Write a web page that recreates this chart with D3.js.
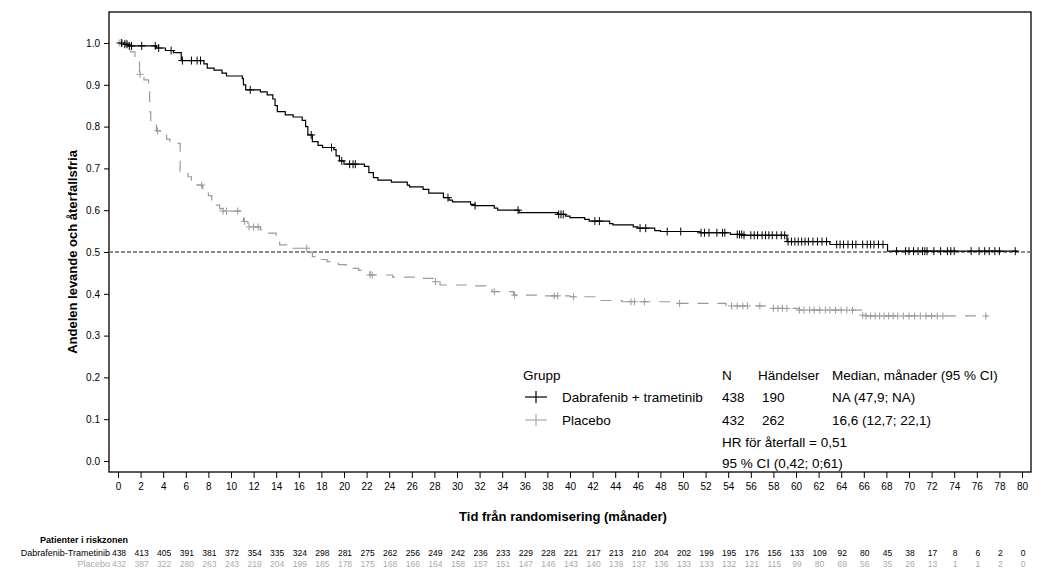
<!DOCTYPE html>
<html>
<head>
<meta charset="utf-8">
<script src="https://cdn.jsdelivr.net/npm/d3@7"></script>
<style>
  body { margin: 0; background: #fff; }
  svg { font-family: Arial, "Liberation Sans", sans-serif; }
</style>
</head>
<body>
<svg id="chart" width="1045" height="578"></svg>
<script>
// x ticks (months) and risk table columns
const months = d3.range(0, 81, 2);
const yTicks = d3.range(0, 1.01, 0.1);

// Dabrafenib + trametinib: [time, survival after the step]
const dabTimes = [0, 0.5, 0.9, 3.4, 4.2, 4.9, 5.6, 7.6, 7.9, 8.5, 9.2, 9.6, 11.0, 11.1, 11.3, 12.6, 13.2, 13.7, 13.9, 14.1, 14.8, 15.5, 16.3, 16.6, 16.8, 17.2, 17.7, 18.1, 19.1, 19.3, 19.6, 20.0, 21.8, 22.2, 22.6, 23.0, 24.2, 25.6, 25.8, 27.0, 27.5, 28.8, 29.3, 29.6, 31.2, 31.6, 33.3, 33.6, 35.5, 38.9, 39.6, 40.0, 41.3, 41.7, 43.5, 43.8, 45.6, 46.0, 47.5, 48.0, 51.5, 54.2, 55.3, 59.2, 63.0, 68.1, 79.6];
const dabSurv = [1.0, 0.997, 0.993, 0.988, 0.982, 0.977, 0.958, 0.950, 0.940, 0.935, 0.928, 0.921, 0.915, 0.900, 0.888, 0.883, 0.876, 0.866, 0.850, 0.836, 0.828, 0.823, 0.815, 0.800, 0.780, 0.764, 0.755, 0.750, 0.745, 0.730, 0.718, 0.710, 0.705, 0.690, 0.678, 0.672, 0.667, 0.660, 0.656, 0.650, 0.641, 0.630, 0.624, 0.620, 0.614, 0.611, 0.605, 0.600, 0.594, 0.590, 0.586, 0.582, 0.578, 0.574, 0.568, 0.565, 0.560, 0.557, 0.551, 0.549, 0.546, 0.542, 0.540, 0.525, 0.518, 0.502, 0.502];
const dabCensor = [0.3, 0.6, 0.8, 1.0, 1.2, 2.1, 3.3, 3.6, 4.7, 5.7, 6.5, 7.0, 7.3, 11.7, 17.1, 18.9, 19.8, 20.5, 20.8, 21.0, 29.2, 31.6, 35.4, 39.0, 39.2, 39.4, 42.2, 42.6, 46.2, 46.7, 48.6, 49.8, 51.6, 51.9, 52.3, 53.0, 53.5, 53.7, 54.8, 55.0, 55.2, 55.4, 56.0, 56.3, 56.6, 57.0, 57.3, 57.6, 57.9, 58.3, 58.7, 59.0, 59.3, 59.6, 59.9, 60.2, 60.5, 60.8, 61.1, 61.5, 61.9, 62.3, 62.7, 63.6, 63.9, 64.2, 64.6, 65.0, 65.3, 65.9, 66.3, 66.6, 66.9, 67.3, 67.7, 68.9, 69.7, 70.0, 70.4, 70.8, 71.2, 71.4, 71.6, 72.2, 72.8, 73.4, 73.7, 74.0, 75.5, 76.2, 76.7, 77.1, 77.6, 78.0, 79.4];

// Placebo
const plaTimes = [0, 0.9, 1.1, 1.5, 1.9, 2.3, 2.7, 2.8, 2.9, 3.4, 4.3, 4.6, 5.0, 5.5, 6.2, 6.5, 7.0, 7.5, 8.0, 8.3, 8.7, 9.0, 9.3, 11.0, 11.1, 11.5, 12.6, 13.1, 14.0, 14.3, 15.5, 16.8, 17.2, 17.8, 18.5, 19.5, 20.2, 21.3, 22.3, 24.3, 26.7, 28.0, 28.5, 30.9, 33.1, 35.0, 37.4, 40.0, 42.2, 44.6, 49.4, 53.8, 57.8, 60.3, 65.8, 66.2, 76.9];
const plaSurv = [1.0, 0.990, 0.979, 0.965, 0.925, 0.912, 0.890, 0.835, 0.808, 0.790, 0.770, 0.764, 0.760, 0.690, 0.680, 0.672, 0.660, 0.645, 0.635, 0.624, 0.612, 0.604, 0.598, 0.585, 0.573, 0.560, 0.553, 0.545, 0.530, 0.517, 0.509, 0.500, 0.489, 0.482, 0.477, 0.470, 0.461, 0.456, 0.445, 0.440, 0.437, 0.429, 0.421, 0.419, 0.405, 0.397, 0.395, 0.393, 0.384, 0.381, 0.377, 0.371, 0.365, 0.361, 0.349, 0.347, 0.347];
const plaCensor = [0.1, 0.4, 0.7, 1.95, 3.5, 7.4, 9.3, 9.6, 10.6, 11.2, 11.6, 12.0, 12.4, 16.7, 22.3, 22.5, 28.1, 33.3, 35.1, 38.6, 38.9, 40.3, 45.4, 45.7, 46.6, 49.7, 54.3, 54.8, 55.3, 55.7, 56.8, 58.0, 58.4, 58.8, 59.2, 60.3, 60.7, 61.2, 61.6, 62.1, 62.6, 63.0, 63.5, 64.0, 64.5, 65.0, 65.9, 66.2, 66.6, 67.0, 67.4, 67.8, 68.2, 68.6, 69.0, 69.5, 70.0, 70.5, 71.0, 71.5, 72.0, 72.5, 73.0, 76.8];

// number at risk
const riskDab = [438, 413, 405, 391, 381, 372, 354, 335, 324, 298, 281, 275, 262, 256, 249, 242, 236, 233, 229, 228, 221, 217, 213, 210, 204, 202, 199, 195, 176, 156, 133, 109, 92, 80, 45, 38, 17, 8, 6, 2, 0];
const riskPla = [432, 387, 322, 280, 263, 243, 219, 204, 199, 185, 178, 175, 168, 166, 164, 158, 157, 151, 147, 146, 143, 140, 139, 137, 136, 133, 133, 132, 121, 115, 99, 80, 69, 56, 35, 26, 13, 1, 1, 2, 0];

const legendHeader = ["Grupp", "N", "Händelser", "Median, månader (95 % CI)"];
const legendRows = [
  ["Dabrafenib + trametinib", "438", "190", "NA (47,9; NA)"],
  ["Placebo", "432", "262", "16,6 (12,7; 22,1)"]
];
const hrLines = ["HR för återfall = 0,51", "95 % CI (0,42; 0;61)"];

const BLACK = "#000";
const GRAY = "#9a9a9a";

const svg = d3.select("#chart");
const x = d3.scaleLinear().domain([0, 80]).range([118, 1022]);
const y = d3.scaleLinear().domain([0, 1]).range([461, 43]);
const frame = { left: 109, right: 1031, top: 12, bottom: 472 };

function stepAt(times, surv, t) {
  const i = d3.bisectRight(times, t) - 1;
  return surv[Math.max(0, i)];
}

// y axis
const yAxis = svg.append("g")
  .attr("transform", `translate(${frame.left},0)`)
  .call(d3.axisLeft(y).tickValues(yTicks).tickFormat(d3.format(".1f")).tickSize(5).tickPadding(4));
yAxis.select(".domain").remove();
yAxis.selectAll("text").attr("font-size", 10).attr("font-family", "Arial, Liberation Sans, sans-serif");

// x axis
const xAxis = svg.append("g")
  .attr("transform", `translate(0,${frame.bottom})`)
  .call(d3.axisBottom(x).tickValues(months).tickSize(6).tickPadding(5));
xAxis.select(".domain").remove();
xAxis.selectAll("text").attr("font-size", 10).attr("font-family", "Arial, Liberation Sans, sans-serif");

// frame
svg.append("rect")
  .attr("x", frame.left).attr("y", frame.top)
  .attr("width", frame.right - frame.left).attr("height", frame.bottom - frame.top)
  .attr("fill", "none").attr("stroke", "#000").attr("stroke-width", 1.3);

// median reference line
svg.append("line")
  .attr("x1", frame.left).attr("x2", frame.right)
  .attr("y1", y(0.5)).attr("y2", y(0.5))
  .attr("stroke", "#666").attr("stroke-width", 1.5).attr("stroke-dasharray", "4,2");

const line = d3.line().x(d => x(d[0])).y(d => y(d[1])).curve(d3.curveStepAfter);

// placebo curve
svg.append("path")
  .datum(d3.zip(plaTimes, plaSurv))
  .attr("d", line)
  .attr("fill", "none").attr("stroke", GRAY).attr("stroke-width", 1.2)
  .attr("stroke-dasharray", "11,9");

// dabrafenib curve
svg.append("path")
  .datum(d3.zip(dabTimes, dabSurv))
  .attr("d", line)
  .attr("fill", "none").attr("stroke", BLACK).attr("stroke-width", 1.2);

function censorMarks(times, surv, marks, color, size) {
  const g = svg.append("g").attr("stroke", color).attr("stroke-width", 1);
  marks.forEach(t => {
    const cx = x(t), cy = y(stepAt(times, surv, t));
    g.append("line").attr("x1", cx - size).attr("x2", cx + size).attr("y1", cy).attr("y2", cy);
    g.append("line").attr("x1", cx).attr("x2", cx).attr("y1", cy - size).attr("y2", cy + size);
  });
}
censorMarks(plaTimes, plaSurv, plaCensor, GRAY, 3.5);
censorMarks(dabTimes, dabSurv, dabCensor, BLACK, 4);

// axis titles
svg.append("text")
  .attr("transform", `translate(77,${(frame.top + frame.bottom) / 2 + 10}) rotate(-90)`)
  .attr("text-anchor", "middle")
  .attr("font-size", 13).attr("font-weight", "bold")
  .text("Andelen levande och återfallsfria");

svg.append("text")
  .attr("x", 563).attr("y", 521)
  .attr("text-anchor", "middle")
  .attr("font-size", 13).attr("font-weight", "bold")
  .text("Tid från randomisering (månader)");

// legend
const leg = svg.append("g").attr("font-size", 13.5).attr("fill", "#000");
const colX = [523, 722, 758, 832];
legendHeader.forEach((s, i) => {
  leg.append("text").attr("x", colX[i]).attr("y", 380).text(s);
});
const rowY = [397, 420];
const rowColors = [BLACK, "#aaa"];
legendRows.forEach((row, r) => {
  const cy = rowY[r];
  leg.append("line").attr("x1", 525).attr("x2", 547).attr("y1", cy).attr("y2", cy)
    .attr("stroke", rowColors[r]).attr("stroke-width", 1.2);
  leg.append("line").attr("x1", 536).attr("x2", 536).attr("y1", cy - 6).attr("y2", cy + 6)
    .attr("stroke", rowColors[r]).attr("stroke-width", 1.2);
  leg.append("text").attr("x", 562).attr("y", cy + 5).text(row[0]);
  leg.append("text").attr("x", 722).attr("y", cy + 5).text(row[1]);
  leg.append("text").attr("x", 762).attr("y", cy + 5).text(row[2]);
  leg.append("text").attr("x", 832).attr("y", cy + 5).text(row[3]);
});
hrLines.forEach((s, i) => {
  leg.append("text").attr("x", 722).attr("y", 447 + i * 21).text(s);
});

// risk table
const risk = svg.append("g").attr("font-size", 8.5);
risk.append("text").attr("x", 40).attr("y", 543)
  .attr("font-weight", "bold").attr("font-size", 9).text("Patienter i riskzonen");
risk.append("text").attr("x", 110).attr("y", 556).attr("text-anchor", "end")
  .attr("font-size", 9).attr("fill", "#000").text("Dabrafenib-Trametinib");
risk.append("text").attr("x", 110).attr("y", 567).attr("text-anchor", "end")
  .attr("font-size", 9).attr("fill", "#aaa").text("Placebo");
risk.selectAll("text.dab").data(riskDab).join("text")
  .attr("class", "dab")
  .attr("x", (d, i) => x(months[i]) + 1).attr("y", 556)
  .attr("text-anchor", "middle").attr("fill", "#000").text(d => d);
risk.selectAll("text.pla").data(riskPla).join("text")
  .attr("class", "pla")
  .attr("x", (d, i) => x(months[i]) + 1).attr("y", 567)
  .attr("text-anchor", "middle").attr("fill", "#aaa").text(d => d);
</script>
</body>
</html>
